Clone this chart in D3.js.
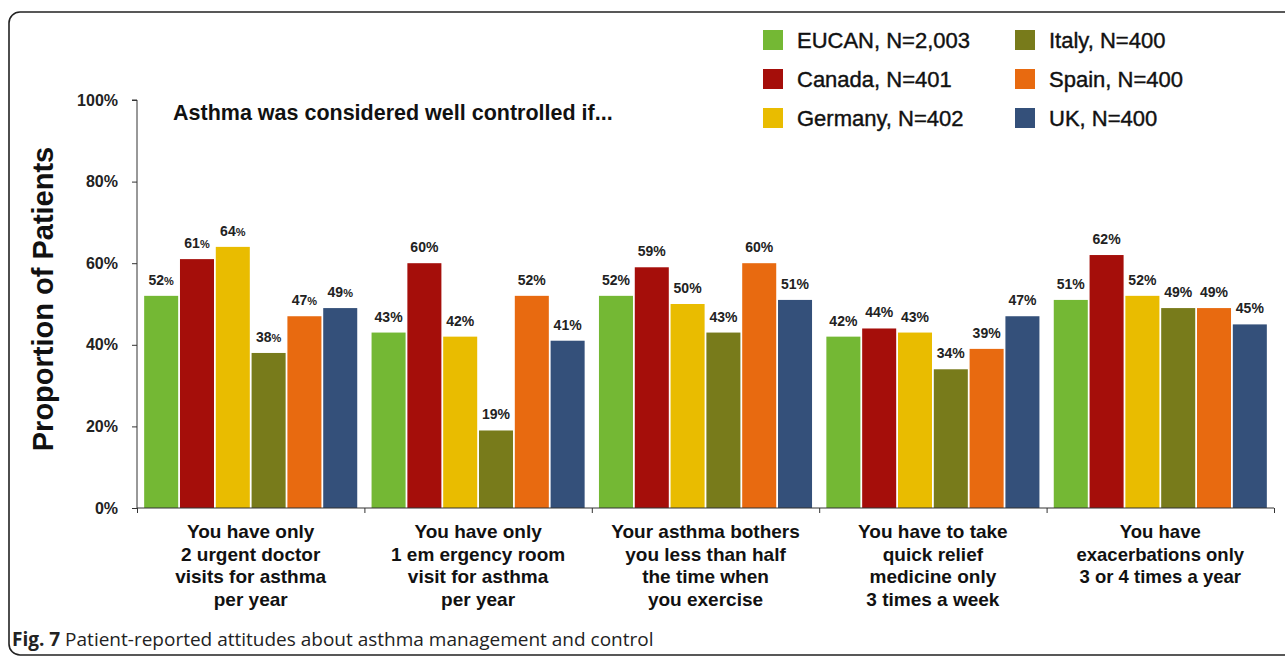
<!DOCTYPE html>
<html>
<head>
<meta charset="utf-8">
<script src="https://cdn.jsdelivr.net/npm/d3@7"></script>
<style>
  body { margin: 0; background: #fff; }
  svg { display: block; }
</style>
</head>
<body>
<script>
// data
var groups = [
  ["You have only", "2 urgent doctor", "visits for asthma", "per year"],
  ["You have only", "1 em ergency room", "visit for asthma", "per year"],
  ["Your asthma bothers", "you less than half", "the time when", "you exercise"],
  ["You have to take", "quick relief", "medicine only", "3 times a week"],
  ["You have", "exacerbations only", "3 or 4 times a year"]
];
var seriesNames = ["EUCAN, N=2,003", "Canada, N=401", "Germany, N=402", "Italy, N=400", "Spain, N=400", "UK, N=400"];
var eucan   = [52, 43, 52, 42, 51];
var canada  = [61, 60, 59, 44, 62];
var germany = [64, 42, 50, 43, 52];
var italy   = [38, 19, 43, 34, 49];
var spain   = [47, 52, 60, 39, 49];
var uk      = [49, 41, 51, 47, 45];
var yTicks = [0, 20, 40, 60, 80, 100];

var colors = ["#74b834", "#a50e0a", "#e9bc00", "#787b1b", "#e86a10", "#34507a"];
var seriesValues = [eucan, canada, germany, italy, spain, uk];

var W = 1285, H = 659;
var margin = {top: 100, left: 137, right: 11, bottom: 151};
var width = W - margin.left - margin.right,
    height = H - margin.top - margin.bottom;

var svg = d3.select("body").append("svg")
    .attr("width", W)
    .attr("height", H);

// frame around the figure
svg.append("rect")
    .attr("x", 9).attr("y", 12)
    .attr("width", 1320).attr("height", 643)
    .attr("rx", 11)
    .attr("fill", "none")
    .attr("stroke", "#222")
    .attr("stroke-width", 1.6);

var g = svg.append("g")
    .attr("transform", "translate(" + margin.left + "," + margin.top + ")");

var x0 = d3.scaleBand().domain(d3.range(groups.length)).range([0, width]).padding(0);
var x1 = d3.scaleBand().domain(d3.range(seriesNames.length))
    .range([0, x0.bandwidth()]).paddingInner(0.05).paddingOuter(0.2);
var y = d3.scaleLinear().domain([0, 100]).range([height, 0]);

// bars
var grp = g.selectAll(".grp")
    .data(groups)
  .enter().append("g")
    .attr("class", "grp")
    .attr("transform", function(d, i) { return "translate(" + x0(i) + ",0)"; });

grp.each(function(d, gi) {
  var sel = d3.select(this);
  seriesValues.forEach(function(vals, si) {
    sel.append("rect")
        .attr("x", x1(si))
        .attr("y", y(vals[gi]))
        .attr("width", x1.bandwidth())
        .attr("height", height - y(vals[gi]))
        .attr("fill", colors[si]);
    var t = sel.append("text")
        .attr("x", x1(si) + x1.bandwidth() / 2)
        .attr("y", y(vals[gi]) - 11)
        .attr("text-anchor", "middle")
        .attr("font-family", "Liberation Sans, Arial, sans-serif")
        .attr("font-weight", "bold")
        .attr("font-size", 14)
        .attr("fill", "#222");
    t.append("tspan").text(vals[gi]);
    t.append("tspan").attr("font-size", gi == 0 ? 11 : 14).text("%");
  });
});

// y axis
var yAxis = g.append("g")
    .call(d3.axisLeft(y).tickValues(yTicks).tickSize(5).tickPadding(14)
      .tickFormat(function(d) { return d + "%"; }));
yAxis.select(".domain").attr("stroke", "#333").attr("d", "M-5,0H0V" + height);
yAxis.selectAll(".tick line").attr("stroke", "#333");
yAxis.selectAll(".tick text")
    .attr("font-family", "Liberation Sans, Arial, sans-serif")
    .attr("font-weight", "bold")
    .attr("font-size", 16)
    .attr("fill", "#222");

// x axis with ticks on group boundaries
var xb = d3.scaleLinear().domain([0, groups.length]).range([0, width]);
var xAxis = g.append("g")
    .attr("transform", "translate(0," + height + ")")
    .call(d3.axisBottom(xb).tickValues(d3.range(groups.length + 1)).tickSize(5).tickFormat(""));
xAxis.select(".domain").attr("stroke", "#333").attr("d", "M0,0H" + width);
xAxis.selectAll(".tick line").attr("stroke", "#333");

// category labels
grp.each(function(d, gi) {
  var t = d3.select(this).append("text")
      .attr("text-anchor", "middle")
      .attr("font-family", "Liberation Sans, Arial, sans-serif")
      .attr("font-weight", "bold")
      .attr("font-size", gi < 4 ? 19 : 18.5)
      .attr("fill", "#111");
  d.forEach(function(line, li) {
    t.append("tspan")
        .attr("x", x0.bandwidth() / 2)
        .attr("y", height + 30 + li * 22.5)
        .text(line);
  });
});

// y axis title
svg.append("text")
    .attr("transform", "translate(53,299) rotate(-90)")
    .attr("text-anchor", "middle")
    .attr("font-family", "Liberation Sans, Arial, sans-serif")
    .attr("font-weight", "bold")
    .attr("font-size", 29)
    .attr("fill", "#111")
    .text("Proportion of Patients");

// inner title
svg.append("text")
    .attr("x", 173).attr("y", 120)
    .attr("font-family", "Liberation Sans, Arial, sans-serif")
    .attr("font-weight", "bold")
    .attr("font-size", 21.5)
    .attr("fill", "#111")
    .text("Asthma was considered well controlled if...");

// legend, two columns of three
var legend = svg.selectAll(".legend")
    .data(seriesNames)
  .enter().append("g")
    .attr("class", "legend")
    .attr("transform", function(d, i) {
      return "translate(" + (763 + Math.floor(i / 3) * 252) + "," + (30 + (i % 3) * 39) + ")";
    });
legend.append("rect")
    .attr("width", 20).attr("height", 20)
    .attr("fill", function(d, i) { return colors[i]; });
legend.append("text")
    .attr("x", 34).attr("y", 18)
    .attr("font-family", "Liberation Sans, Arial, sans-serif")
    .attr("font-size", 22)
    .attr("fill", "#111")
    .attr("stroke", "#111")
    .attr("stroke-width", 0.4)
    .text(function(d) { return d; });

// caption
var cap = svg.append("text")
    .attr("x", 12).attr("y", 646)
    .attr("font-family", "Open Sans, Noto Sans, sans-serif")
    .attr("font-size", 19)
    .attr("fill", "#222");
cap.append("tspan").attr("font-weight", "bold").text("Fig. 7");
cap.append("tspan").text(" Patient-reported attitudes about asthma management and control");
</script>
</body>
</html>
